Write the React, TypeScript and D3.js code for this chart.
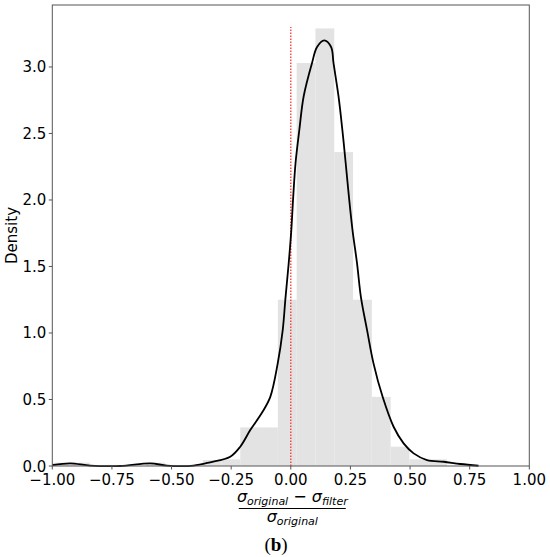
import React from "react";
import * as d3 from "d3";

// Histogram: 21 bins from -1.0 to 0.655
const binStart = -1.0;
const binEnd = 0.655;
const binDensity = [
  0.025, 0.025, 0, 0, 0, 0.025, 0, 0, 0.045, 0.05,
  0.29, 0.29, 1.25, 3.03, 3.29, 2.36, 1.25, 0.52, 0.145, 0.05, 0.05,
];

// KDE curve
const kdeX = [
  -1.0, -0.925, -0.841, -0.715, -0.589, -0.519, -0.408, -0.338, -0.254, -0.212,
  -0.17, -0.121, -0.086, -0.055, -0.034, -0.022, -0.009, 0.002, 0.01, 0.02,
  0.036, 0.054, 0.089, 0.11, 0.14, 0.169, 0.179, 0.2, 0.216, 0.23,
  0.244, 0.259, 0.278, 0.294, 0.32, 0.347, 0.385, 0.431, 0.473, 0.515,
  0.571, 0.641, 0.711, 0.787,
];
const kdeY = [
  0.006, 0.02, 0.003, 0.0, 0.02, 0.003, 0.003, 0.028, 0.07, 0.145,
  0.27, 0.4, 0.52, 0.77, 1.02, 1.27, 1.52, 1.77, 2.02, 2.28,
  2.53, 2.78, 3.03, 3.15, 3.2, 3.15, 3.03, 2.78, 2.53, 2.28,
  2.02, 1.77, 1.52, 1.27, 1.02, 0.77, 0.52, 0.295, 0.17, 0.095,
  0.045, 0.032, 0.015, 0.002,
];

const xTicks = [-1.0, -0.75, -0.5, -0.25, 0.0, 0.25, 0.5, 0.75, 1.0];
const yTicks = [0.0, 0.5, 1.0, 1.5, 2.0, 2.5, 3.0];
const refLineX = 0;
const refLineTop = 3.3;

export default function App() {
  const W = 550, H = 557;
  const left = 52.3, right = 529.3, top = 5, bottom = 466;
  const x = d3.scaleLinear().domain([-1, 1]).range([left, right]);
  const y = d3.scaleLinear().domain([0, 3.466]).range([bottom, top]);
  const binW = (binEnd - binStart) / binDensity.length;
  const fmtX = (v: number) => d3.format(".2f")(v).replace("-", "\u2212");
  const fmtY = (v: number) => d3.format(".1f")(v);
  const line = d3
    .line<number>()
    .x((_, i) => x(kdeX[i]))
    .y((d) => Math.min(y(d), bottom))
    .curve(d3.curveCatmullRom.alpha(0.5));
  const axisColor = "#555";
  const font = "DejaVu Sans, sans-serif";
  const cx = (left + right) / 2;

  return (
    <svg
      width={W}
      height={H}
      style={{ position: "absolute", left: 0, top: 0, background: "#fff" }}
    >
      <rect x={0} y={0} width={W} height={H} fill="#fff" />
      {binDensity.map((d, i) =>
        d > 0 ? (
          <rect
            key={i}
            x={x(binStart + i * binW)}
            y={y(d)}
            width={x(binStart + (i + 1) * binW) - x(binStart + i * binW)}
            height={y(0) - y(d)}
            fill="#e3e3e3"
          />
        ) : null
      )}
      <line
        x1={x(refLineX)}
        x2={x(refLineX)}
        y1={y(0)}
        y2={y(refLineTop)}
        stroke="#ff3030"
        strokeWidth={1.3}
        strokeDasharray="1.5,1.5"
      />
      <path d={line(kdeY) || ""} fill="none" stroke="#000" strokeWidth={1.8} />
      <rect
        x={left}
        y={top}
        width={right - left}
        height={bottom - top}
        fill="none"
        stroke={axisColor}
        strokeWidth={1}
      />
      {xTicks.map((t) => (
        <g key={"x" + t}>
          <line x1={x(t)} x2={x(t)} y1={bottom} y2={bottom + 3.5} stroke={axisColor} />
          <text
            x={x(t)}
            y={bottom + 19}
            textAnchor="middle"
            fontFamily={font}
            fontSize={15}
            fill="#000"
          >
            {fmtX(t)}
          </text>
        </g>
      ))}
      {yTicks.map((t) => (
        <g key={"y" + t}>
          <line x1={left - 3.5} x2={left} y1={y(t)} y2={y(t)} stroke={axisColor} />
          <text
            x={left - 6}
            y={y(t) + 5.5}
            textAnchor="end"
            fontFamily={font}
            fontSize={15}
            fill="#000"
          >
            {fmtY(t)}
          </text>
        </g>
      ))}
      <text
        transform={`translate(17,${(top + bottom) / 2}) rotate(-90)`}
        textAnchor="middle"
        fontFamily={font}
        fontSize={15}
        fill="#000"
      >
        Density
      </text>
      {/* x label as fraction */}
      <text
        x={cx + 1.5}
        y={502}
        textAnchor="middle"
        fontFamily={font}
        fontStyle="italic"
        fontSize={16}
        fill="#000"
      >
        σ<tspan fontSize={11} dy={3}>original</tspan>
        <tspan dy={-3} fontStyle="normal"> − </tspan>σ
        <tspan fontSize={11} dy={3}>filter</tspan>
      </text>
      <line x1={cx - 52} x2={cx + 55} y1={508.5} y2={508.5} stroke="#000" strokeWidth={1} />
      <text
        x={cx + 1.5}
        y={521.5}
        textAnchor="middle"
        fontFamily={font}
        fontStyle="italic"
        fontSize={16}
        fill="#000"
      >
        σ<tspan fontSize={11} dy={3}>original</tspan>
      </text>
      <text
        x={276}
        y={551}
        textAnchor="middle"
        fontFamily="Liberation Serif, Times New Roman, serif"
        fontSize={19}
        fill="#000"
      >
        (<tspan fontWeight="bold">b</tspan>)
      </text>
    </svg>
  );
}
